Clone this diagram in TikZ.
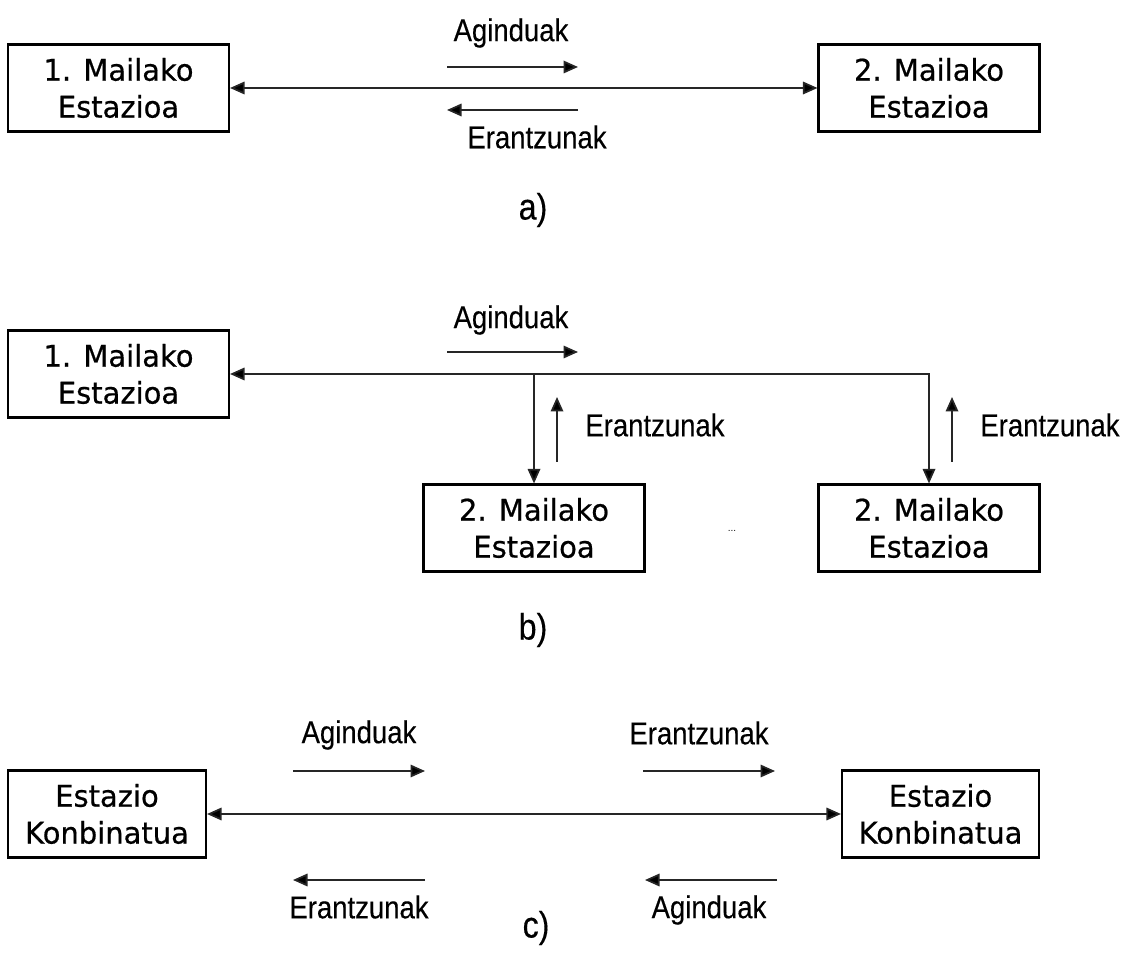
\documentclass[tikz,border=0pt]{standalone}
\usepackage{fontspec}
\setmainfont{DejaVu Sans}
\newfontfamily\stationfont[FakeStretch=0.97,FakeBold=0.6]{DejaVu Sans}
\newfontfamily\msgfont[FakeStretch=0.87,FakeBold=0.3]{Liberation Sans}
\usetikzlibrary{positioning,arrows.meta}

\begin{document}
\begin{tikzpicture}[x=0.02cm,y=-0.02cm,
    station/.style={rectangle,draw,line width=1.2pt,minimum width=4.42cm,minimum height=1.74cm,inner sep=0pt,align=center,font=\stationfont\fontsize{17}{21}\selectfont},
    msg/.style={inner sep=0pt,font=\msgfont\fontsize{18}{20}\selectfont},
    tag/.style={inner sep=0pt,font=\msgfont\fontsize{21}{24}\selectfont},
    arrow/.style={-{Triangle[length=2.9mm,width=2.5mm,fill=black]},line width=1pt,draw=black!85},
    link/.style={{Triangle[length=2.9mm,width=2.5mm,fill=black]}-{Triangle[length=2.9mm,width=2.5mm,fill=black]},line width=1pt,draw=black!85}
]
\useasboundingbox (0,0) rectangle (1125,955);

% a) point to point
\node[station] (a-first) at (118.5,88) {1. Mailako\\Estazioa};
\node[station] (a-second) at (929,88) {2. Mailako\\Estazioa};
\draw[link] (a-first) -- (a-second);

\node[msg] (a-cmd) at (511,33) {Aginduak};
\coordinate (a-cmd-from) at (447,67);
\coordinate (a-cmd-to) at (578,67);
\draw[arrow] (a-cmd-from) -- (a-cmd-to);

\node[msg] (a-resp) at (537,137) {Erantzunak};
\coordinate (a-resp-from) at (578,110);
\coordinate (a-resp-to) at (447,110);
\draw[arrow] (a-resp-from) -- (a-resp-to);

\node[tag] (a-tag) at (533,210) {a)};

% b) one primary, several secondaries
\node[station] (b-first) at (118.5,374) {1. Mailako\\Estazioa};
\node[station] (b-second-l) at (534,528) {2. Mailako\\Estazioa};
\node[station] (b-second-r) at (929,528) {2. Mailako\\Estazioa};
\node[font=\tiny] (b-dots) at (732,531) {...};

\draw[link] (b-first.east) -| (b-second-r.north);
\draw[arrow] (b-second-l.north |- b-first.east) -- (b-second-l.north);

\node[msg] (b-cmd) at (511,320) {Aginduak};
\coordinate (b-cmd-from) at (447,352);
\coordinate (b-cmd-to) at (578,352);
\draw[arrow] (b-cmd-from) -- (b-cmd-to);

\coordinate (b-resp-l-from) at (557,462);
\coordinate (b-resp-l-to) at (557,397);
\draw[arrow] (b-resp-l-from) -- (b-resp-l-to);
\node[msg,anchor=west] (b-resp-l) at (585,425) {Erantzunak};

\coordinate (b-resp-r-from) at (952,462);
\coordinate (b-resp-r-to) at (952,397);
\draw[arrow] (b-resp-r-from) -- (b-resp-r-to);
\node[msg,anchor=west] (b-resp-r) at (980,425) {Erantzunak};

\node[tag] (b-tag) at (533,630) {b)};

% c) combined stations
\node[station,minimum width=3.96cm] (c-left) at (107,814) {Estazio\\Konbinatua};
\node[station,minimum width=3.94cm] (c-right) at (940.5,814) {Estazio\\Konbinatua};
\draw[link] (c-left) -- (c-right);

\node[msg] (c-cmd-l) at (359,735) {Aginduak};
\coordinate (c-cmd-l-from) at (293,771);
\coordinate (c-cmd-l-to) at (425,771);
\draw[arrow] (c-cmd-l-from) -- (c-cmd-l-to);

\node[msg] (c-resp-l) at (359,907) {Erantzunak};
\coordinate (c-resp-l-from) at (425,880);
\coordinate (c-resp-l-to) at (293,880);
\draw[arrow] (c-resp-l-from) -- (c-resp-l-to);

\node[msg] (c-resp-r) at (699,733) {Erantzunak};
\coordinate (c-resp-r-from) at (643,771);
\coordinate (c-resp-r-to) at (775,771);
\draw[arrow] (c-resp-r-from) -- (c-resp-r-to);

\node[msg] (c-cmd-r) at (709,910) {Aginduak};
\coordinate (c-cmd-r-from) at (777,880);
\coordinate (c-cmd-r-to) at (645,880);
\draw[arrow] (c-cmd-r-from) -- (c-cmd-r-to);

\node[tag] (c-tag) at (536,928) {c)};

\end{tikzpicture}
\end{document}
